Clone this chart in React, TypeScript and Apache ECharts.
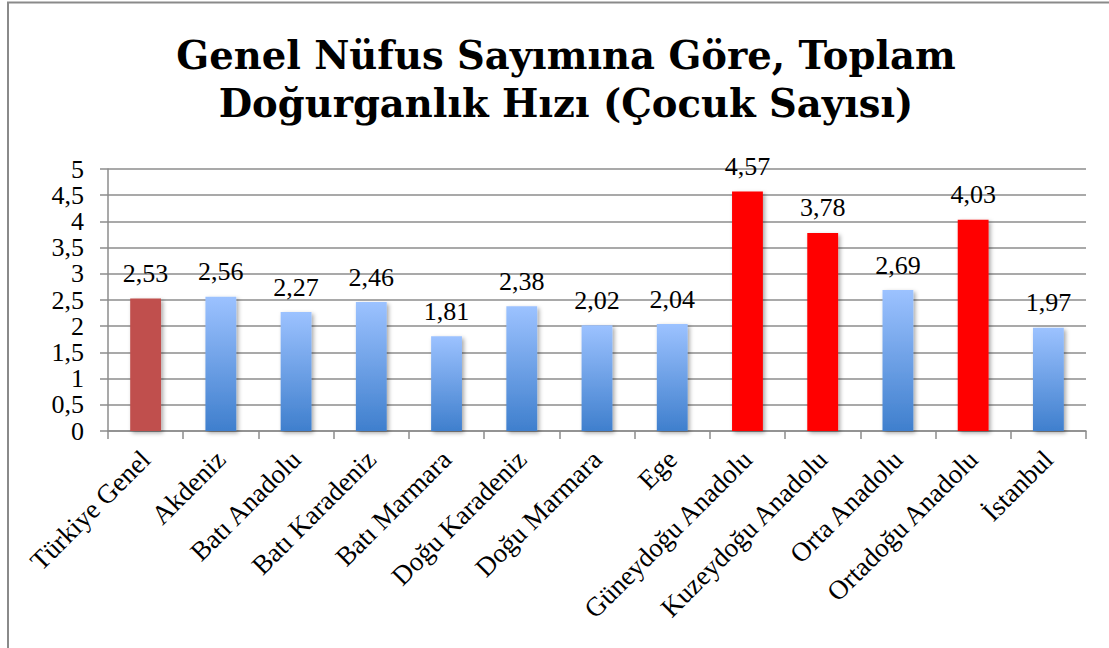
import React, { useEffect, useRef } from "react";
import * as echarts from "echarts";

const categories = [
  "Türkiye Genel",
  "Akdeniz",
  "Batı Anadolu",
  "Batı Karadeniz",
  "Batı Marmara",
  "Doğu Karadeniz",
  "Doğu Marmara",
  "Ege",
  "Güneydoğu Anadolu",
  "Kuzeydoğu Anadolu",
  "Orta Anadolu",
  "Ortadoğu Anadolu",
  "İstanbul",
];
const values = [2.53, 2.56, 2.27, 2.46, 1.81, 2.38, 2.02, 2.04, 4.57, 3.78, 2.69, 4.03, 1.97];
// bar kinds: 0 = national (dark red), 1 = normal region (blue gradient), 2 = highlighted region (red)
const kinds = [0, 1, 1, 1, 1, 1, 1, 1, 2, 2, 1, 2, 1];
const titleText = "Genel Nüfus Sayımına Göre, Toplam\nDoğurganlık Hızı (Çocuk Sayısı)";

const blueGradient = new echarts.graphic.LinearGradient(0, 0, 0, 1, [
  { offset: 0, color: "#9cc2ff" },
  { offset: 1, color: "#3f7fcd" },
]);

function colorFor(kind: number) {
  if (kind === 0) return "#c0504d";
  if (kind === 2) return "#ff0000";
  return blueGradient;
}

export default function App() {
  const ref = useRef<HTMLDivElement>(null);
  useEffect(() => {
    document.body.style.margin = "0";
    if (!ref.current) return;
    const chart = echarts.init(ref.current, null, { renderer: "svg" });
    const serif = "'Liberation Serif', 'DejaVu Serif', serif";
    chart.setOption({
      animation: false,
      backgroundColor: "#ffffff",
      title: {
        text: titleText,
        left: 561,
        top: 26,
        textAlign: "center",
        textStyle: {
          fontFamily: "'DejaVu Serif', serif",
          fontWeight: "bold",
          fontSize: 38.5,
          lineHeight: 48,
          color: "#000",
        },
      },
      graphic: [
        {
          type: "rect",
          shape: { x: 8, y: 2.5, width: 1200, height: 700 },
          style: { fill: "none", stroke: "#8a8a8a", lineWidth: 2 },
          silent: true,
        },
      ],
      grid: { left: 108, right: 23, top: 169, bottom: 217 },
      xAxis: {
        type: "category",
        data: categories,
        axisLine: { lineStyle: { color: "#8c8c8c", width: 1.5 } },
        axisTick: { show: true, length: 8, alignWithLabel: false, lineStyle: { color: "#8c8c8c", width: 1.5 } },
        axisLabel: {
          rotate: 45,
          interval: 0,
          margin: 24,
          fontFamily: serif,
          fontSize: 27,
          color: "#000",
        },
      },
      yAxis: {
        type: "value",
        min: 0,
        max: 5,
        interval: 0.5,
        axisLine: { show: true, lineStyle: { color: "#8c8c8c", width: 1.5 } },
        axisTick: { show: true, length: 8, lineStyle: { color: "#8c8c8c", width: 1.5 } },
        splitLine: { show: true, lineStyle: { color: "#8c8c8c", width: 1.5 } },
        axisLabel: {
          margin: 24,
          fontFamily: serif,
          fontSize: 26,
          color: "#000",
          formatter: (v: number) => String(v).replace(".", ","),
        },
      },
      series: [
        {
          type: "bar",
          barWidth: "41%",
          data: values.map((v, i) => ({
            value: v,
            itemStyle: {
              color: colorFor(kinds[i]),
              shadowColor: "rgba(0,0,0,0.35)",
              shadowBlur: 4,
              shadowOffsetX: 2,
              shadowOffsetY: 2,
            },
          })),
          label: {
            show: true,
            position: "top",
            distance: 12,
            fontFamily: serif,
            fontSize: 26,
            color: "#000",
            formatter: (p: any) => p.value.toFixed(2).replace(".", ","),
          },
        },
      ],
    });
    return () => chart.dispose();
  }, []);
  return <div ref={ref} style={{ width: 1109, height: 648 }} />;
}
